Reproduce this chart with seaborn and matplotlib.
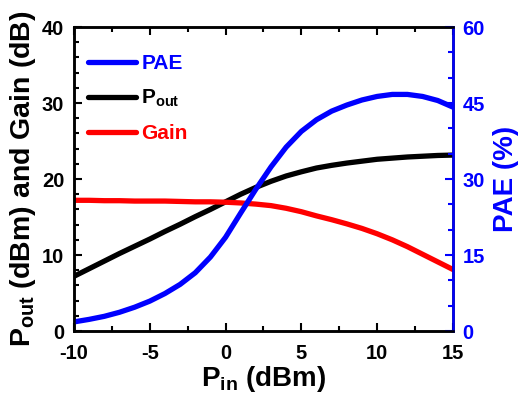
import numpy as np
import pandas as pd
import matplotlib
matplotlib.use("Agg")
import matplotlib.pyplot as plt
import seaborn as sns
from matplotlib.ticker import MultipleLocator

# values
pin = [-10, -9, -8, -7, -6, -5, -4, -3, -2, -1, 0, 1, 2, 3, 4, 5,
       6, 7, 8, 9, 10, 11, 12, 13, 14, 15]
pout = [7.2, 8.2, 9.2, 10.2, 11.15, 12.1, 13.1, 14.05, 15.05, 16.0, 17.0,
        18.0, 18.9, 19.7, 20.4, 20.95, 21.45, 21.8, 22.1, 22.35, 22.6,
        22.75, 22.9, 23.0, 23.1, 23.15]
gain = [17.2, 17.2, 17.15, 17.15, 17.1, 17.1, 17.1, 17.05, 17.0, 17.0, 16.95,
        16.85, 16.7, 16.5, 16.15, 15.7, 15.15, 14.65, 14.1, 13.5, 12.8,
        12.0, 11.1, 10.1, 9.1, 8.1]
pae = [1.8, 2.3, 2.9, 3.7, 4.7, 5.9, 7.4, 9.2, 11.5, 14.6, 18.5,
       23.3, 28.0, 32.4, 36.3, 39.4, 41.7, 43.4, 44.6, 45.6, 46.3,
       46.7, 46.7, 46.3, 45.5, 44.2]

BLUE = "#0000ff"
RED = "#ff0000"

sns.set_style("ticks")
plt.rcParams["font.family"] = ["Liberation Sans", "DejaVu Sans"]
plt.rcParams["font.weight"] = "bold"
plt.rcParams["mathtext.fontset"] = "custom"
plt.rcParams["mathtext.bf"] = "Liberation Sans:bold"
plt.rcParams["mathtext.rm"] = "Liberation Sans:bold"
plt.rcParams["axes.unicode_minus"] = False
for key in ["text.color", "axes.labelcolor", "xtick.color", "ytick.color",
            "axes.edgecolor"]:
    plt.rcParams[key] = "black"

df = pd.DataFrame({"pin": pin, "pout": pout, "gain": gain, "pae": pae})

fig = plt.figure(figsize=(5.19, 3.97), dpi=100)
ax = fig.add_axes([0.1426, 0.1662, 0.730, 0.7657])
ax2 = ax.twinx()

lw = 3.8
line_kw = dict(lw=lw, solid_joinstyle="round", solid_capstyle="round",
               legend=False)
sns.lineplot(data=df, x="pin", y="pout", ax=ax, color="black",
             label=r"$\mathbf{P_{out}}$", **line_kw)
sns.lineplot(data=df, x="pin", y="gain", ax=ax, color=RED,
             label="Gain", **line_kw)
sns.lineplot(data=df, x="pin", y="pae", ax=ax2, color=BLUE,
             label="PAE", **line_kw)

ax.set_xlim(-10, 15)
ax.set_ylim(0, 40)
ax2.set_ylim(0, 60)

ax.xaxis.set_major_locator(MultipleLocator(5))
ax.xaxis.set_minor_locator(MultipleLocator(2.5))
ax.yaxis.set_major_locator(MultipleLocator(10))
ax.yaxis.set_minor_locator(MultipleLocator(2))
ax2.yaxis.set_major_locator(MultipleLocator(15))
ax2.yaxis.set_minor_locator(MultipleLocator(5))

ax.tick_params(axis="both", which="both", direction="in", width=1.5,
               labelsize=14.5, top=True, right=False, pad=7)
ax.tick_params(which="major", length=6)
ax.tick_params(which="minor", length=3.5)
ax.tick_params(axis="x", pad=9)
ax2.tick_params(axis="y", which="both", direction="in", width=1.5,
                labelsize=14.5, colors=BLUE, pad=7)
ax2.tick_params(which="major", length=6)
ax2.tick_params(which="minor", length=3.5)

for sp in ax.spines.values():
    sp.set_linewidth(1.8)
for sp in ax2.spines.values():
    sp.set_linewidth(1.8)
ax2.spines["right"].set_color(BLUE)

ax.set_xlabel(r"$\mathbf{P_{in}}$ (dBm)", fontsize=20, fontweight="bold",
              labelpad=1)
ax.set_ylabel(r"$\mathbf{P_{out}}$ (dBm) and Gain (dB)", fontsize=20.5,
              fontweight="bold", labelpad=3)
ax2.set_ylabel("PAE (%)", fontsize=20, fontweight="bold", color=BLUE,
               labelpad=5.5)

h1, l1 = ax.get_legend_handles_labels()
h2, l2 = ax2.get_legend_handles_labels()
leg = ax.legend(h2 + h1, l2 + l1, loc="upper left", frameon=False,
                fontsize=15, handlelength=2.3, handletextpad=0.25,
                labelspacing=0.7, borderaxespad=0, borderpad=0,
                bbox_to_anchor=(0.037, 0.91))
for txt, col in zip(leg.get_texts(), [BLUE, "black", RED]):
    txt.set_color(col)
    txt.set_fontweight("bold")
for line in leg.get_lines():
    line.set_solid_capstyle("round")

fig.savefig("out.png", dpi=100)
